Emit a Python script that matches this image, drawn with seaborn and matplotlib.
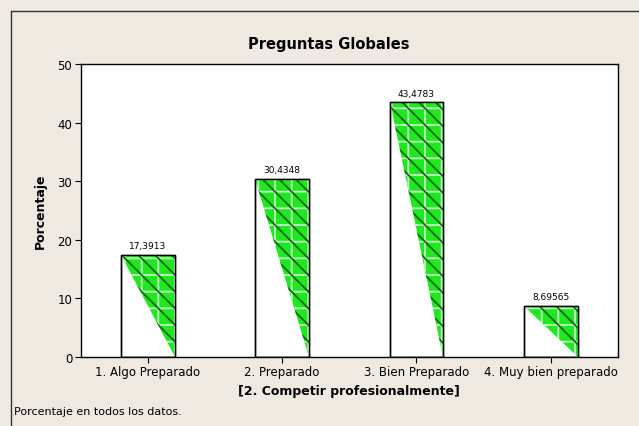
import matplotlib
matplotlib.use("Agg")
import matplotlib.pyplot as plt
import seaborn as sns
import pandas as pd
from matplotlib.patches import Polygon, Rectangle

categories = ["1. Algo Preparado", "2. Preparado", "3. Bien Preparado", "4. Muy bien preparado"]
values = [17.3913, 30.4348, 43.4783, 8.69565]
value_labels = ["17,3913", "30,4348", "43,4783", "8,69565"]
yticks = [0, 10, 20, 30, 40, 50]

df = pd.DataFrame({"cat": categories, "val": values})

sns.set_theme(style="white")
plt.rcParams["font.family"] = ["DejaVu Sans"]
plt.rcParams["text.color"] = "black"
plt.rcParams["axes.labelcolor"] = "black"
plt.rcParams["hatch.linewidth"] = 1.3

bg = "#EEEAE1"
fig = plt.figure(figsize=(6.39, 4.27), dpi=100, facecolor=bg)
ax = fig.add_axes([0.1263, 0.1616, 0.8407, 0.6862])
ax.set_facecolor("white")

sns.barplot(data=df, x="cat", y="val", ax=ax, color="white", edgecolor="black",
            linewidth=1.0, width=0.4, saturation=1)

for p, lab in zip(ax.patches, value_labels):
    x0 = p.get_x()
    w = p.get_width()
    h = p.get_height()
    tri = [(x0, h), (x0 + w, h), (x0 + w, 0)]
    ax.add_patch(Polygon(tri, closed=True, facecolor="#1EE81E", edgecolor="#C8F5C8",
                         hatch="+", linewidth=0, zorder=2.5))
    ax.add_patch(Polygon(tri, closed=True, facecolor="none", edgecolor="#0E6A0E",
                         hatch="\\\\", linewidth=0, zorder=2.6))
    ax.add_patch(Rectangle((x0, 0), w, h, facecolor="none", edgecolor="black",
                           linewidth=1.0, zorder=3))
    ax.text(x0 + w / 2, h + 0.8, lab, ha="center", va="bottom", fontsize=6.5, color="black")

ax.set_xlim(-0.5, 3.5)
ax.set_ylim(0, 50)
ax.set_yticks(yticks)
ax.set_yticklabels([str(t) for t in yticks], fontsize=8.5)
ax.tick_params(axis="both", direction="out", length=4, width=0.8, colors="black",
               left=True, bottom=True, labelsize=8.5, pad=2)
for s in ax.spines.values():
    s.set_visible(True)
    s.set_color("black")
    s.set_linewidth(1.0)

ax.set_xlabel("[2. Competir profesionalmente]", fontsize=9, fontweight="bold", labelpad=4,
              color="black")
ax.set_ylabel("Porcentaje", fontsize=9, fontweight="bold", labelpad=8, color="black")

fig.text(0.515, 0.895, "Preguntas Globales", ha="center", va="center",
         fontsize=10.5, fontweight="bold", color="black")
fig.text(0.022, 0.035, "Porcentaje en todos los datos.", ha="left", va="center",
         fontsize=8, color="black")

# outer frame (left and top edges)
fig.add_artist(plt.Line2D([11 / 639, 11 / 639], [0, 1 - 12 / 427], transform=fig.transFigure,
                          color="#333333", linewidth=1.0))
fig.add_artist(plt.Line2D([11 / 639, 1], [1 - 12 / 427, 1 - 12 / 427], transform=fig.transFigure,
                          color="#333333", linewidth=1.0))

fig.savefig("out.png", dpi=100, facecolor=bg)
